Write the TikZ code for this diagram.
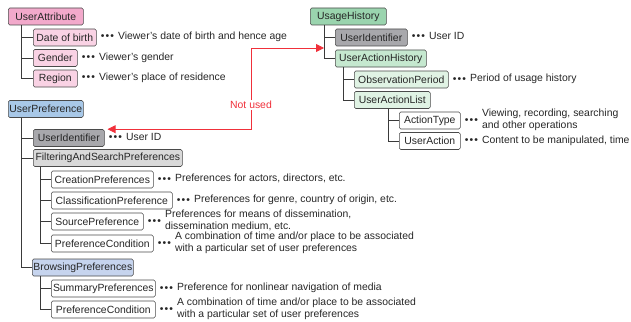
\documentclass[tikz,border=0pt]{standalone}
\usepackage{fontspec}
\setmainfont{Liberation Sans}
\usepackage{tikz}
\usetikzlibrary{arrows.meta}
\usetikzlibrary{positioning}
\definecolor{boxline}{HTML}{4A4A4A}
\definecolor{treeline}{HTML}{3A3A3A}
\definecolor{redline}{HTML}{F0303A}
\definecolor{pinkA}{HTML}{F2A9CB}
\definecolor{pinkB}{HTML}{F9D2E4}
\definecolor{blueA}{HTML}{A8C8E8}
\definecolor{blueB}{HTML}{C6D4EE}
\definecolor{grayA}{HTML}{A8A8AC}
\definecolor{grayB}{HTML}{D9D9D9}
\definecolor{greenA}{HTML}{9AD4AE}
\definecolor{greenB}{HTML}{C5E8CF}
\definecolor{greenC}{HTML}{E0F3E4}
\newcommand{\ddd}{\textbullet\kern1.2pt\textbullet\kern1.2pt\textbullet}
\newcommand{\desc}[1]{\ddd\hspace{4pt}\begin{tabular}{@{}l@{}}#1\end{tabular}}
\tikzset{
  x=1pt, y=-1pt,
  every node/.style={font=\fontsize{10.4}{12}\selectfont, text=black!85},
  box/.style={draw=boxline, line width=0.6pt, rounded corners=1.5pt,
    minimum height=17pt, inner xsep=1pt, inner ysep=0pt, anchor=west},
  note/.style={inner sep=0pt},
  tree/.style={draw=treeline, line width=0.7pt},
  notused/.style={draw=redline, line width=0.8pt,
    {Triangle[length=8pt,width=8pt]}-{Triangle[length=8pt,width=8pt]}},
}

\begin{document}
\begin{tikzpicture}
    \useasboundingbox (0,0) rectangle (631,321);
    \node [box, fill=pinkA, minimum width=75pt] (ua) at (8,16.5) {UserAttribute};
    \node [box, fill=pinkB, minimum width=63pt] (dob) at (33,37.5) {Date of birth};
    \node [box, fill=pinkB, minimum width=44pt] (gen) at (33,58) {Gender};
    \node [box, fill=pinkB, minimum width=44pt] (reg) at (33,78.5) {Region};
    \node [box, fill=blueA, minimum width=75pt] (up) at (8,109) {UserPreference};
    \node [box, fill=grayA, minimum width=71pt] (uid1) at (33,138) {UserIdentifier};
    \node [box, fill=grayB, minimum width=149pt] (fsp) at (33,158) {FilteringAndSearchPreferences};
    \node [box, fill=white, minimum width=102pt] (crp) at (51,179.5) {CreationPreferences};
    \node [box, fill=white, minimum width=121pt] (clp) at (51,200.5) {ClassificationPreference};
    \node [box, fill=white, minimum width=92pt] (srp) at (51,221.5) {SourcePreference};
    \node [box, fill=white, minimum width=102pt] (pc1) at (51,243.5) {PreferenceCondition};
    \node [box, fill=blueB, minimum width=101pt] (brp) at (32,267.5) {BrowsingPreferences};
    \node [box, fill=white, minimum width=104pt] (smp) at (51,288.5) {SummaryPreferences};
    \node [box, fill=white, minimum width=104pt] (pc2) at (51,309.5) {PreferenceCondition};
    \node [box, fill=greenA, minimum width=76pt] (uh) at (310,16.5) {UsageHistory};
    \node [box, fill=grayA, minimum width=72pt] (uid2) at (335,37.5) {UserIdentifier};
    \node [box, fill=greenB, minimum width=91pt] (uah) at (335,58.5) {UserActionHistory};
    \node [box, fill=greenC, minimum width=94pt] (obp) at (354,79.5) {ObservationPeriod};
    \node [box, fill=greenC, minimum width=76pt] (ual) at (354,100) {UserActionList};
    \node [box, fill=white, minimum width=61pt] (act) at (399,120.5) {ActionType};
    \node [box, fill=white, minimum width=61pt] (uac) at (399,141) {UserAction};

    \node [note, right=4pt of dob] (dobn) {\desc{Viewer's date of birth and hence age}};
    \node [note, right=4pt of gen] (genn) {\desc{Viewer's gender}};
    \node [note, right=4pt of reg] (regn) {\desc{Viewer's place of residence}};
    \node [note, right=4pt of uid1] (uid1n) {\desc{User ID}};
    \node [note, right=4pt of crp] (crpn) {\desc{Preferences for actors, directors, etc.}};
    \node [note, right=4pt of clp] (clpn) {\desc{Preferences for genre, country of origin, etc.}};
    \node [note, right=4pt of srp] (srpn) {\desc{Preferences for means of dissemination,\\dissemination medium, etc.}};
    \node [note, right=4pt of pc1] (pc1n) {\desc{A combination of time and/or place to be associated\\with a particular set of user preferences}};
    \node [note, right=4pt of smp] (smpn) {\desc{Preference for nonlinear navigation of media}};
    \node [note, right=4pt of pc2] (pc2n) {\desc{A combination of time and/or place to be associated\\with a particular set of user preferences}};
    \node [note, right=4pt of uid2] (uid2n) {\desc{User ID}};
    \node [note, right=4pt of obp] (obpn) {\desc{Period of usage history}};
    \node [note, right=4pt of act] (actn) {\desc{Viewing, recording, searching\\and other operations}};
    \node [note, right=4pt of uac] (uacn) {\desc{Content to be manipulated, time}};

    \foreach \c in {dob,gen,reg}
      \draw [tree] ([xshift=13pt]ua.south west) |- (\c.west);
    \foreach \c in {uid1,fsp,brp}
      \draw [tree] ([xshift=13pt]up.south west) |- (\c.west);
    \foreach \c in {crp,clp,srp,pc1}
      \draw [tree] ([xshift=7pt]fsp.south west) |- (\c.west);
    \foreach \c in {smp,pc2}
      \draw [tree] ([xshift=8pt]brp.south west) |- (\c.west);
    \foreach \c in {uid2,uah}
      \draw [tree] ([xshift=14pt]uh.south west) |- (\c.west);
    \foreach \c in {obp,ual}
      \draw [tree] ([xshift=8pt]uah.south west) |- (\c.west);
    \foreach \c in {act,uac}
      \draw [tree] ([xshift=34pt]ual.south west) |- (\c.west);

    \coordinate (tip) at ([xshift=14pt]uh.south west |- 0,48);
    \coordinate (turn) at (251,48);
    \draw [notused] ([xshift=3pt]uid1.north east) -| node [pos=0.65, fill=white, inner sep=1pt, text=redline] {Not used} (turn) -- (tip);
\end{tikzpicture}
\end{document}
